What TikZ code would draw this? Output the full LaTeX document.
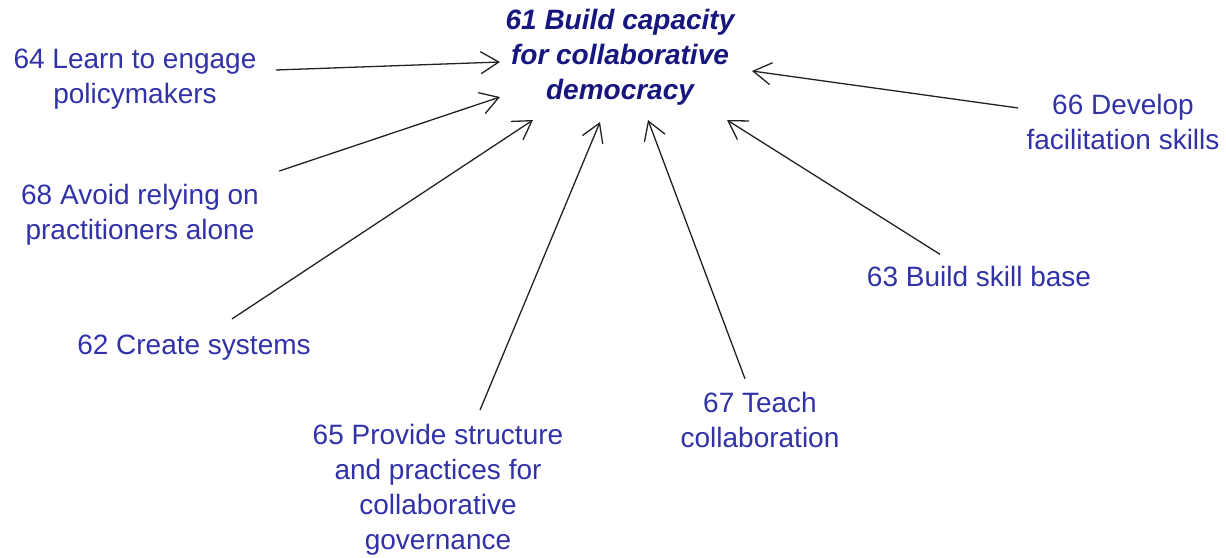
\documentclass[tikz,border=0pt]{standalone}
\usepackage{fontspec}
\setmainfont{Liberation Sans}
\definecolor{labelblue}{HTML}{3131A8}
\definecolor{goalnavy}{HTML}{16167E}
\definecolor{arrowgrey}{HTML}{222222}
\usetikzlibrary{arrows.meta, positioning, calc}
\tikzset{
  factor/.style={text=labelblue, align=center, inner sep=2pt,
    font=\fontsize{14}{17.5}\selectfont},
  goal/.style={factor, text=goalnavy, font=\fontsize{14}{17.5}\selectfont\bfseries\itshape},
  link/.style={arrowgrey, line width=0.65pt,
    -{Straight Barb[length=9pt, width=11pt, line width=0.65pt]}}
}

\begin{document}
\begin{tikzpicture}[x=0.5pt, y=-0.5pt]
  \useasboundingbox (0,0) rectangle (1226,557);

  % Central goal
  \node[goal] (n61) at (620,57) {61 Build capacity\\for collaborative\\democracy};

  % Contributing factors
  \node[factor] (n64) at (135,79)  {64 Learn to engage\\policymakers};
  \node[factor] (n68) at (140,215) {68 Avoid relying on\\practitioners alone};
  \node[factor] (n62) at (194,348) {62 Create systems};
  \node[factor] (n65) at (438,490) {65 Provide structure\\and practices for\\collaborative\\governance};
  \node[factor] (n67) at (760,420) {67 Teach\\collaboration};
  \node[factor] (n63) at (979,276) {63 Build skill base};
  \node[factor] (n66) at (1123,122) {66 Develop\\facilitation skills};

  % Arrow heads around the goal
  \coordinate (h64) at (500,62);
  \coordinate (h68) at (500,97);
  \coordinate (h62) at (533,120);
  \coordinate (h65) at (600,122);
  \coordinate (h67) at (648,120);
  \coordinate (h63) at (727,120);
  \coordinate (h66) at (752,71);

  % Links into the goal
  \draw[link] ($(n64.east)+(15,-9)$) -- (h64);
  \draw[link] ($(n68.north east)+(16,-9)$) -- (h68);
  \draw[link] ($(n62.north)+(38,-12)$) -- (h62);
  \draw[link] ($(n65.north)+(42,-10)$) -- (h65);
  \draw[link] ($(n67.north)+(-15,-9)$) -- (h67);
  \draw[link] ($(n63.north)+(-39,-7)$) -- (h63);
  \draw[link] ($(n66.west)+(-4,-14)$) -- (h66);
\end{tikzpicture}
\end{document}
